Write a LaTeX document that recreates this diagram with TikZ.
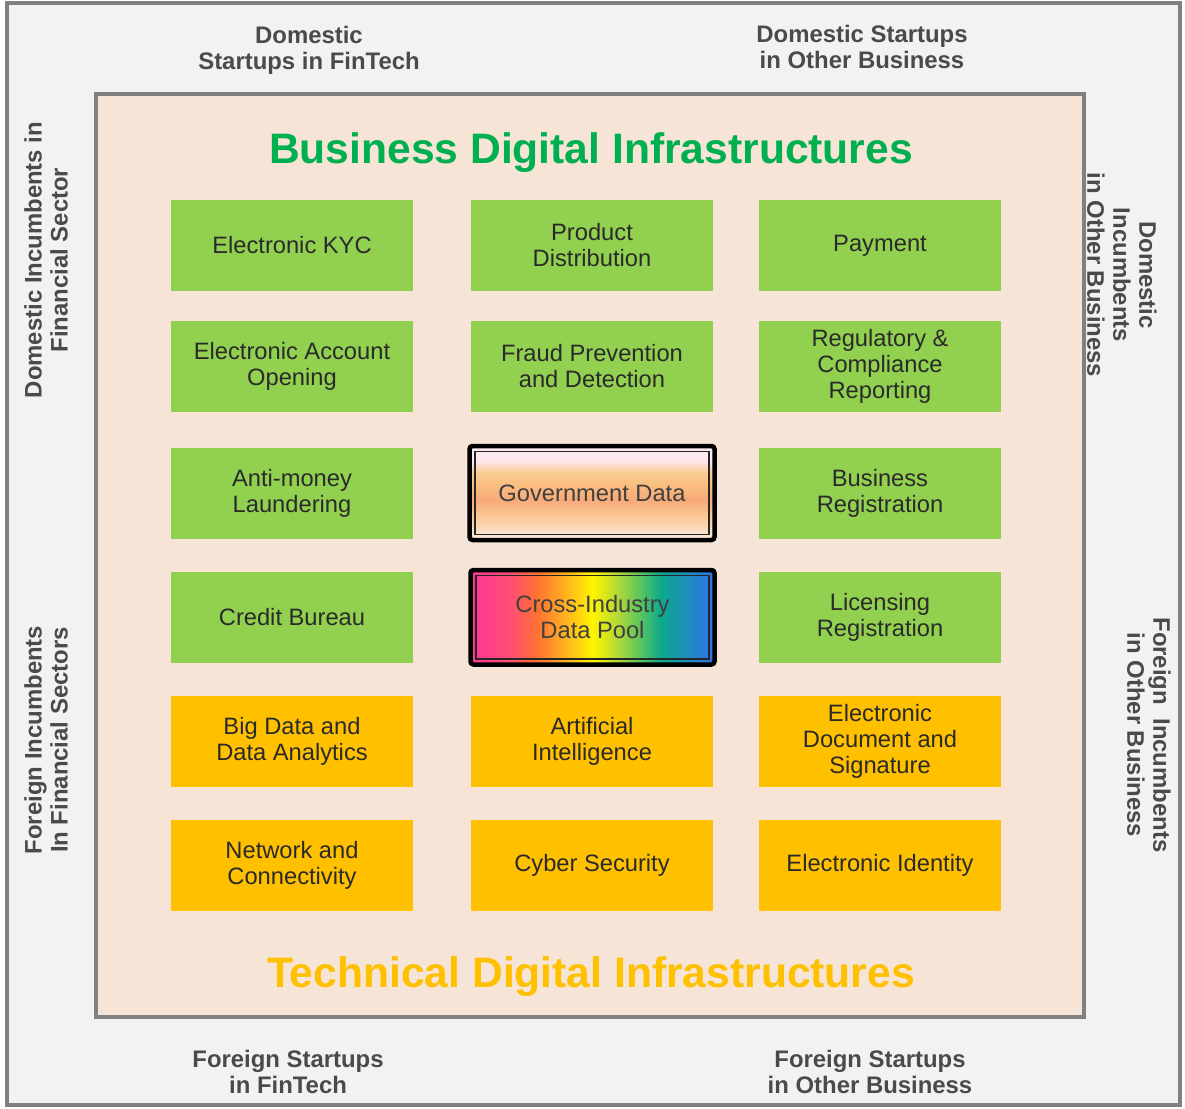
\documentclass[tikz,border=0pt]{standalone}
\usepackage{fontspec}
\setmainfont{Liberation Sans}
\usetikzlibrary{calc}

\definecolor{framegray}{HTML}{808080}
\definecolor{outerbg}{HTML}{F2F2F2}
\definecolor{innerbg}{HTML}{F6E4D6}
\definecolor{bizgreen}{HTML}{92D050}
\definecolor{techorange}{HTML}{FFC000}
\definecolor{titlegreen}{HTML}{00B050}
\definecolor{boxtext}{HTML}{2A2A2A}
\definecolor{softtext}{HTML}{404040}
\definecolor{labeltext}{HTML}{4A4A4A}

% peach band for the government data box (bottom to top)
\definecolor{gA}{HTML}{FDE8DC}
\definecolor{gB}{HTML}{FCE0CA}
\definecolor{gC}{HTML}{FAC792}
\definecolor{gD}{HTML}{F8AA78}
\definecolor{gE}{HTML}{FABF80}
\definecolor{gF}{HTML}{FBCD92}
\definecolor{gG}{HTML}{FDE6EE}
\definecolor{gH}{HTML}{FCEEF2}
\pgfdeclareverticalshading{govpeach}{100bp}{%
  color(0bp)=(gA); color(25bp)=(gA); color(29bp)=(gB); color(38bp)=(gC);
  color(46.5bp)=(gD); color(55bp)=(gE); color(61bp)=(gF); color(67bp)=(gG);
  color(75bp)=(gH); color(100bp)=(gH)}

% spectrum for the data pool box (left to right)
\definecolor{rA}{HTML}{FF3399}
\definecolor{rB}{HTML}{FF5070}
\definecolor{rC}{HTML}{FF7033}
\definecolor{rD}{HTML}{FFB020}
\definecolor{rE}{HTML}{FFF500}
\definecolor{rF}{HTML}{B5DA35}
\definecolor{rG}{HTML}{4CC066}
\definecolor{rH}{HTML}{0DA88E}
\definecolor{rI}{HTML}{1F8CBE}
\definecolor{rJ}{HTML}{3070EA}
\pgfdeclarehorizontalshading{poolspectrum}{100bp}{%
  color(0bp)=(rA); color(25bp)=(rA); color(33.5bp)=(rB); color(38.5bp)=(rC);
  color(44.25bp)=(rD); color(50bp)=(rE); color(55bp)=(rF); color(60.5bp)=(rG);
  color(64bp)=(rH); color(69.5bp)=(rI); color(75bp)=(rJ); color(100bp)=(rJ)}

\tikzset{
  infra/.style={minimum width=242, minimum height=91, inner sep=0, align=center,
    text=boxtext, font=\fontsize{23.7}{26}\selectfont},
  biz/.style={infra, fill=bizgreen},
  tech/.style={infra, fill=techorange},
  datahub/.style={minimum width=245, minimum height=94, inner sep=0, outer sep=0,
    align=center, text=softtext, font=\fontsize{23.7}{26}\selectfont,
    draw=black, line width=4.5, rounded corners=3},
  hubrim/.style={draw=black!85, line width=1.2},
  sidelabel/.style={align=center, text=labeltext, inner sep=0,
    font=\bfseries\fontsize{23.9}{26}\selectfont},
  heading/.style={anchor=base, inner sep=0, font=\bfseries\fontsize{42.6}{48}\selectfont}
}

\begin{document}
\begin{tikzpicture}[x=1pt,y=-1pt]
\useasboundingbox[fill=white] (0,0) rectangle (1185,1108);

% frames
\draw[framegray, line width=4, fill=outerbg] (7,3.5) rectangle (1179.5,1105);
\draw[framegray, line width=4, fill=innerbg] (95.5,94) rectangle (1084,1017);

% headings
\node[heading, text=titlegreen] (bizhead) at (591,163) {Business Digital Infrastructures};
\node[heading, text=techorange] (techhead) at (591,987.5) {Technical Digital Infrastructures};

% business infrastructures
\node[biz] (ekyc)  at (292,245.5) {Electronic KYC};
\node[biz] (prod)  at (592,245.5) {Product\\Distribution};
\node[biz] (pay)   at (880,245.5) {Payment};
\node[biz] (eacc)  at (292,366.5) {Electronic Account\\Opening};
\node[biz] (fraud) at (592,366.5) {Fraud Prevention\\and Detection};
\node[biz] (reg)   at (880,366.5) {Regulatory \&\\Compliance\\Reporting};
\node[biz] (aml)   at (292,493.5) {Anti-money\\Laundering};
\node[biz] (breg)  at (880,493.5) {Business\\Registration};
\node[biz] (cb)    at (292,617.5) {Credit Bureau};
\node[biz] (lic)   at (880,617.5) {Licensing\\Registration};

% technical infrastructures
\node[tech] (bigdata) at (292,741.5) {Big Data and\\Data Analytics};
\node[tech] (ai)      at (592,741.5) {Artificial\\Intelligence};
\node[tech] (edoc)    at (880,741.5) {Electronic\\Document and\\Signature};
\node[tech] (net)     at (292,865.5) {Network and\\Connectivity};
\node[tech] (cyber)   at (592,865.5) {Cyber Security};
\node[tech] (eid)     at (880,865.5) {Electronic Identity};

% data hubs in the centre column
\node[datahub, shading=govpeach] (gov) at (592,493) {Government Data};
\draw[hubrim] ($(gov.north west)+(5.5,5.5)$) rectangle ($(gov.south east)+(-5.5,-5.5)$);
\node[datahub, shading=poolspectrum, minimum width=244, minimum height=94.5] (pool) at (592.5,617.25) {Cross-Industry\\Data Pool};
\draw[hubrim] ($(pool.north west)+(5.5,5.5)$) rectangle ($(pool.south east)+(-5.5,-5.5)$);

% market participants around the frame
\node[sidelabel] (dsf) at (309,50) {Domestic\\Startups in FinTech};
\node[sidelabel] (dso) at (862,47) {Domestic Startups\\in Other Business};
\node[sidelabel] (fsf) at (288,1072) {Foreign Startups\\in FinTech};
\node[sidelabel] (fso) at (870,1072) {Foreign Startups\\in Other Business};
\node[sidelabel, rotate=90] (dif) at (46,260) {Domestic Incumbents in\\Financial Sector};
\node[sidelabel, rotate=90] (fif) at (46,740) {Foreign Incumbents\\In Financial Sectors};
\node[sidelabel, rotate=-90] (dio) at (1122,275) {Domestic\\Incumbents\\in Other Business};
\node[sidelabel, rotate=-90] (fio) at (1149,735) {Foreign\ \ Incumbents\\in Other Business};
\end{tikzpicture}
\end{document}
